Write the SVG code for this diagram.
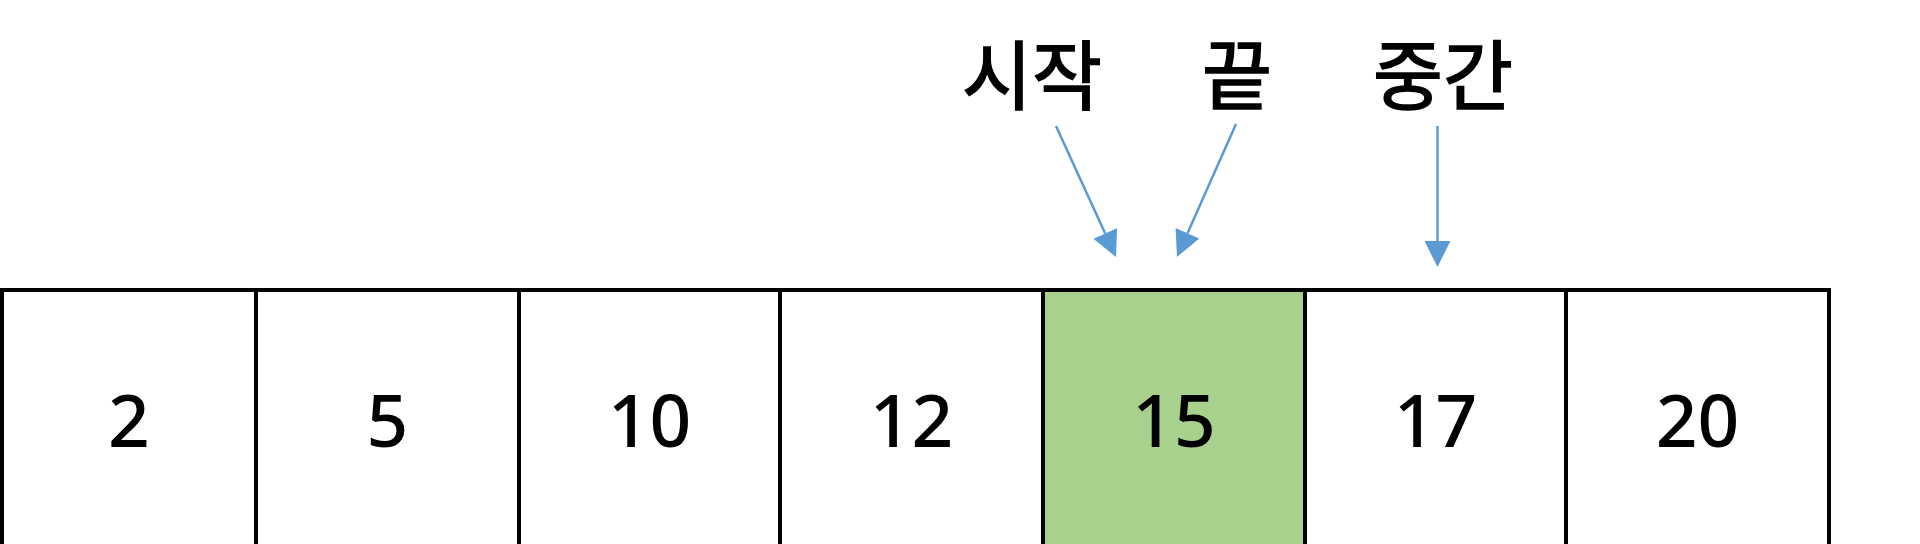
<svg xmlns="http://www.w3.org/2000/svg" width="1920" height="544" viewBox="0 0 1920 544">
<style>
.cell{fill:#ffffff;stroke:#000000;stroke-width:4}
.hl{fill:#a9d18e}
.num{font-family:"Noto Sans","Liberation Sans",sans-serif;font-size:73px;font-weight:500;fill:#000;text-anchor:middle}
.lbl{font-family:"Noto Sans CJK KR","Noto Sans",sans-serif;font-size:76px;font-weight:400;fill:#000;stroke:#000;stroke-width:1.6;text-anchor:middle}
.arr{stroke:#5b9bd5;stroke-width:2.5;fill:none;marker-end:url(#ah)}
</style>
<defs>
<marker id="ah" markerUnits="userSpaceOnUse" markerWidth="26" markerHeight="26" refX="0" refY="13" orient="auto" viewBox="0 0 26 26">
<path d="M0,0 L26,13 L0,26 Z" fill="#5b9bd5"/>
</marker>
</defs>
<rect width="1920" height="544" fill="#ffffff"/>
<g id="labels">
<text class="lbl" x="1032" y="104">시작</text>
<text class="lbl" x="1237" y="104">끝</text>
<text class="lbl" x="1443" y="104">중간</text>
</g>
<g id="connectors">
<line class="arr" x1="1056" y1="126" x2="1105.2" y2="233.4"/>
<line class="arr" x1="1236" y1="124" x2="1187.5" y2="233.2"/>
<line class="arr" x1="1437.5" y1="126" x2="1437.5" y2="241"/>
</g>
<g id="cell-2"><rect class="cell" x="2" y="290" width="254" height="280"/><text class="num" x="129" y="447">2</text></g>
<g id="cell-5"><rect class="cell" x="256" y="290" width="263" height="280"/><text class="num" x="387.5" y="447">5</text></g>
<g id="cell-10"><rect class="cell" x="519" y="290" width="261" height="280"/><text class="num" x="649.5" y="447">10</text></g>
<g id="cell-12"><rect class="cell" x="780" y="290" width="263" height="280"/><text class="num" x="911.5" y="447">12</text></g>
<g id="cell-15"><rect class="cell hl" x="1043" y="290" width="262" height="280"/><text class="num" x="1174" y="447">15</text></g>
<g id="cell-17"><rect class="cell" x="1305" y="290" width="261" height="280"/><text class="num" x="1435.5" y="447">17</text></g>
<g id="cell-20"><rect class="cell" x="1566" y="290" width="263" height="280"/><text class="num" x="1697.5" y="447">20</text></g>
</svg>
